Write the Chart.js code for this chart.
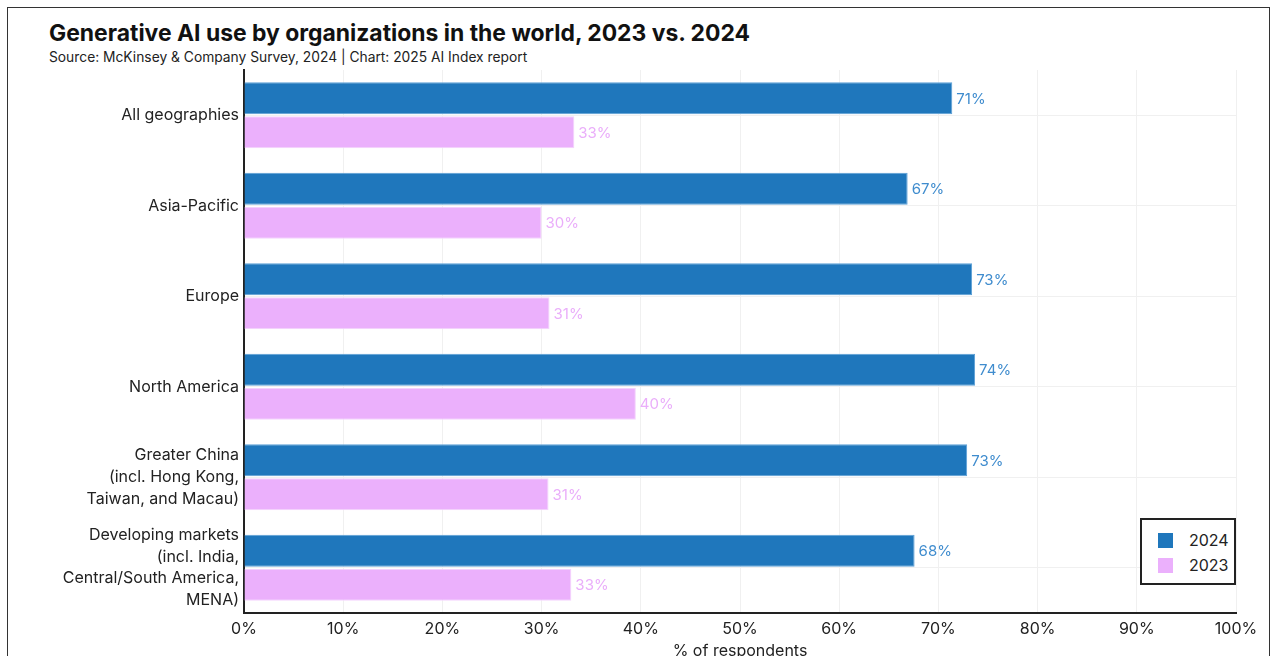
<!DOCTYPE html>
<html>
<head>
<meta charset="utf-8">
<script src="https://cdn.jsdelivr.net/npm/chart.js@4.4.1/dist/chart.umd.min.js"></script>
<style>
  html, body { margin: 0; padding: 0; background: #fff; overflow: hidden; }
  body { width: 1277px; height: 656px; position: relative; font-family: Inter, "Noto Sans", sans-serif; }
  #frame { position: absolute; left: 7px; top: 7px; width: 1263px; height: 700px; border: 1px solid #333; box-sizing: border-box; }
  #title { position: absolute; left: 49px; top: 19px; font-size: 22.9px; font-weight: 700; color: #111; white-space: nowrap; }
  #subtitle { position: absolute; left: 49px; top: 49px; font-size: 13.8px; color: #222; white-space: nowrap; }
  #wrap { position: absolute; left: 0; top: 0; width: 1277px; height: 700px; }
  #legend { position: absolute; left: 1140px; top: 518px; width: 96px; height: 67px; border: 2px solid #222; box-sizing: border-box; background: #fff; }
  .item { position: absolute; left: 16px; font-size: 16px; color: #222; }
  .item span.sw { position: absolute; left: 0; top: 3px; width: 15px; height: 15px; }
  .item span.tx { position: absolute; left: 31px; top: 0; }
</style>
</head>
<body>
<div id="frame"></div>
<div id="title">Generative AI use by organizations in the world, 2023 vs. 2024</div>
<div id="subtitle">Source: McKinsey &amp; Company Survey, 2024 | Chart: 2025 AI Index report</div>
<div id="wrap"><canvas id="chart" width="1277" height="700"></canvas></div>
<div id="legend"></div>
<script>
// regions (multi-line labels)
const regions = [
  ['All geographies'],
  ['Asia-Pacific'],
  ['Europe'],
  ['North America'],
  ['Greater China', '(incl. Hong Kong,', 'Taiwan, and Macau)'],
  ['Developing markets', '(incl. India,', 'Central/South America,', 'MENA)']
];
// % of respondents
const values2024 = [71.4, 66.9, 73.4, 73.7, 72.9, 67.6];
const values2023 = [33.3, 30.0, 30.8, 39.5, 30.7, 33.0];
const xTicks = [0, 10, 20, 30, 40, 50, 60, 70, 80, 90, 100];

const blue = '#1f77bc';
const pink = '#ebb0fc';
const fontFamily = 'Inter, "Noto Sans", sans-serif';

// value labels at bar ends
const barLabels = {
  id: 'barLabels',
  afterDatasetsDraw(chart) {
    const ctx = chart.ctx;
    ctx.save();
    ctx.font = '15px ' + fontFamily;
    ctx.textBaseline = 'middle';
    ctx.textAlign = 'left';
    chart.data.datasets.forEach((ds, i) => {
      ctx.fillStyle = ds.labelColor;
      chart.getDatasetMeta(i).data.forEach((bar, j) => {
        ctx.fillText(Math.round(ds.data[j]) + '%', bar.x + 4, bar.y + 1);
      });
    });
    ctx.restore();
  }
};

const chart = new Chart(document.getElementById('chart').getContext('2d'), {
  type: 'bar',
  data: {
    labels: regions,
    datasets: [
      { label: '2024', data: values2024, backgroundColor: blue, borderColor: '#5b9fd6', borderWidth: 1, labelColor: '#3f8cce' },
      { label: '2023', data: values2023, backgroundColor: pink, borderColor: '#f4d4fd', borderWidth: 1, labelColor: '#eaaefa' }
    ]
  },
  options: {
    indexAxis: 'y',
    responsive: false,
    animation: false,
    layout: { padding: { top: 70, right: 41, bottom: 39, left: 0 } },
    categoryPercentage: 0.75,
    barPercentage: 0.94,
    plugins: {
      legend: { display: false },
      tooltip: { enabled: false }
    },
    scales: {
      x: {
        min: 0,
        max: 100,
        afterBuildTicks: scale => { scale.ticks = xTicks.map(v => ({ value: v })); },
        afterFit: scale => { scale.height = 48; },
        ticks: {
          callback: v => v + '%',
          color: '#222',
          font: { family: fontFamily, size: 16 },
          padding: 7,
          maxRotation: 0
        },
        grid: { color: '#f0f0f0', drawTicks: false },
        border: { color: '#222', width: 2 },
        title: {
          display: true,
          text: '% of respondents',
          color: '#222',
          font: { family: fontFamily, size: 16 },
          padding: { top: 0, bottom: 0 }
        }
      },
      y: {
        afterFit: scale => { scale.width = 244; },
        ticks: {
          color: '#222',
          font: { family: fontFamily, size: 16, lineHeight: 1.35 },
          padding: 5
        },
        grid: { color: '#f0f0f0', offset: false, drawTicks: false },
        border: { color: '#222', width: 2 }
      }
    }
  },
  plugins: [barLabels]
});

// legend built from the datasets
const legend = document.getElementById('legend');
chart.data.datasets.forEach((ds, i) => {
  const item = document.createElement('div');
  item.className = 'item';
  item.style.top = (10 + i * 25) + 'px';
  item.innerHTML = '<span class="sw" style="background:' + ds.backgroundColor + '"></span><span class="tx">' + ds.label + '</span>';
  legend.appendChild(item);
});
</script>
</body>
</html>
